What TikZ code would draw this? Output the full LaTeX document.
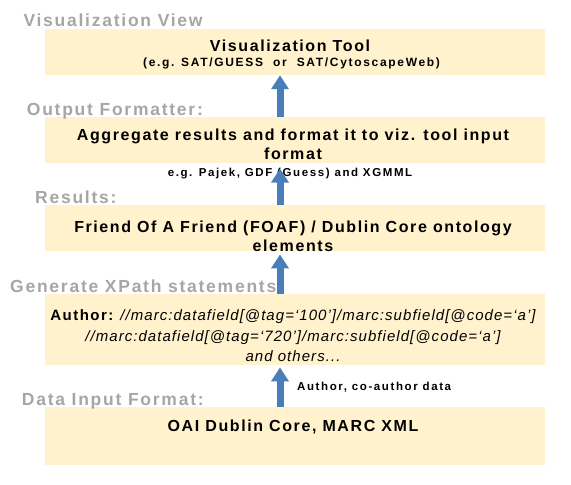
\documentclass[tikz,border=0pt]{standalone}
\usepackage{fontspec}
\setmainfont{Liberation Sans}
\newfontfamily\widefont[LetterSpace=10]{Liberation Sans}
\newfontfamily\widerfont[LetterSpace=14]{Liberation Sans}
\newfontfamily\codefont[LetterSpace=7]{Liberation Sans}
\usepackage{tikz}
\usetikzlibrary{arrows.meta,positioning}
\definecolor{boxfill}{RGB}{255,242,204}
\definecolor{labelgray}{RGB}{166,166,166}
\definecolor{arrowblue}{RGB}{74,126,187}

\begin{document}
\begin{tikzpicture}[x=1pt, y=-1pt,
  layer/.style={fill=boxfill, minimum width=500pt, anchor=north west, inner sep=0pt},
  tag/.style={anchor=base west, text=labelgray, inner sep=0pt, font=\widefont\bfseries\fontsize{17.5}{20}\selectfont},
  title/.style={anchor=base, align=center, inner sep=0pt, font=\widefont\bfseries\fontsize{16}{19}\selectfont},
  note/.style={anchor=base, inner sep=0pt, font=\widerfont\bfseries\fontsize{11.5}{13}\selectfont},
  uparr/.style={-{Triangle[width=17pt,length=14pt]}, line width=7pt, draw=arrowblue}
]
\useasboundingbox (0,0) rectangle (571,485);
% layers
\node[layer, minimum height=46.5pt] (viz) at (45,28.3) {};
\node[layer, minimum height=45.7pt] (fmt) at (45,117) {};
\node[layer, minimum height=45.7pt] (res) at (45,205) {};
\node[layer, minimum height=71pt] (xpath) at (45,294) {};
\node[layer, minimum height=58.3pt] (input) at (45,406.7) {};
\coordinate (ax) at (280,0);
% layer names
\node[tag] (vizlbl) at (23.3,26.7) {Visualization View};
\node[tag] (fmtlbl) at (26.7,115) {Output Formatter:};
\node[tag] (reslbl) at (35,203) {Results:};
\node[tag] (xpathlbl) at (10,292) {Generate XPath statements:};
\node[tag] (inputlbl) at (21.7,405) {Data Input Format:};
% layer contents (base = last line)
\node[title] (viztxt) at (290,51.5) {Visualization Tool};
\node[note, font=\widerfont\bfseries\fontsize{12}{13}\selectfont] (vizsub) at (291.5,66.7) {(e.g. SAT/GUESS\ \ or\ \ SAT/CytoscapeWeb)};
\node[title] (fmttxt) at (293,159) {Aggregate results and format it to viz. tool input\\format};
\node[note] (fmtsub) at (290,176) {e.g. Pajek, GDF (Guess) and XGMML};
\node[title] (restxt) at (293,251.7) {Friend Of A Friend (FOAF) / Dublin Core ontology\\elements};
\node[anchor=base, align=center, inner sep=0pt, font=\codefont\fontsize{15}{20.5}\selectfont] (xpathtxt) at (293,361.7)
  {{\widefont\bfseries Author:} \itshape //marc:datafield[@tag=‘100’]/marc:subfield[@code=‘a’]\\
   \itshape //marc:datafield[@tag=‘720’]/marc:subfield[@code=‘a’]\\
   \itshape and others...};
\node[note, anchor=base west] (inputsub) at (297,390) {Author, co-author data};
\node[title] (inputtxt) at (293,431.7) {OAI Dublin Core, MARC XML};
% flow
\draw[uparr] (fmt.north -| ax) -- (viz.south -| ax);
\draw[uparr, shorten >=5.5pt] (res.north -| ax) -- (fmt.south -| ax);
\draw[uparr, shorten >=3.3pt] (xpath.north -| ax) -- (res.south -| ax);
\draw[uparr, shorten >=2pt] (input.north -| ax) -- (xpath.south -| ax);
\end{tikzpicture}
\end{document}
